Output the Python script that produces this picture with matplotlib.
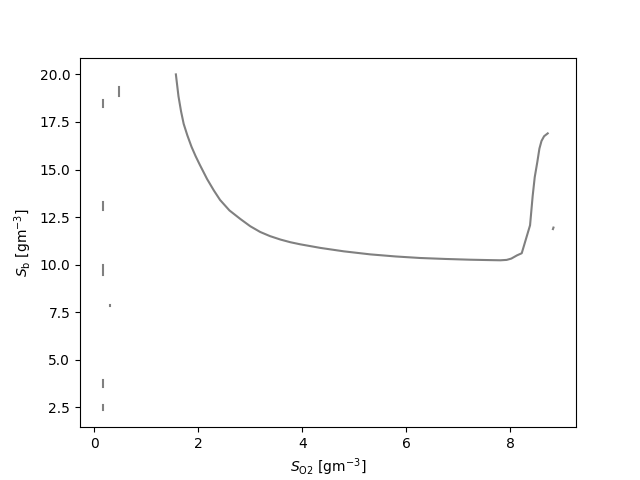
import matplotlib
matplotlib.use("Agg")
import matplotlib.pyplot as plt

# main nullcline branch
so2_main = [1.57, 1.62, 1.67, 1.72, 1.79, 1.87, 1.95, 2.03, 2.17, 2.30, 2.42, 2.60,
            2.81, 3.00, 3.19, 3.38, 3.58, 3.77, 3.96, 4.35, 4.80, 5.31, 5.80, 6.27,
            6.75, 7.23, 7.60, 7.81, 7.93, 8.02, 8.13, 8.22, 8.38, 8.43, 8.47, 8.52,
            8.56, 8.60, 8.65, 8.72]
sb_main = [20.0, 18.85, 18.05, 17.4, 16.8, 16.2, 15.7, 15.25, 14.5, 13.9, 13.4, 12.85,
           12.4, 12.02, 11.72, 11.5, 11.32, 11.18, 11.07, 10.88, 10.7, 10.54, 10.43,
           10.35, 10.3, 10.26, 10.24, 10.23, 10.25, 10.32, 10.49, 10.6, 12.07, 13.6,
           14.6, 15.4, 16.1, 16.5, 16.75, 16.9]

# small fragments
frag_x = [[0.47, 0.47], [0.16, 0.16], [0.16, 0.16], [0.16, 0.16], [0.31, 0.31],
          [0.16, 0.16], [0.16, 0.16], [8.82, 8.83]]
frag_y = [[18.87, 19.35], [18.28, 18.67], [12.85, 13.29], [9.44, 9.96], [7.81, 7.9],
          [3.57, 3.92], [2.34, 2.61], [11.87, 11.95]]

fig, ax = plt.subplots(figsize=(6.4, 4.8), dpi=100)
ax.plot(so2_main, sb_main, color="gray", lw=1.5)
for fx, fy in zip(frag_x, frag_y):
    ax.plot(fx, fy, color="gray", lw=1.5)

ax.set_xlabel(r"$S_{\mathrm{O2}}$ [gm$^{-3}$]")
ax.set_ylabel(r"$S_{\mathrm{b}}$ [gm$^{-3}$]")

fig.savefig("out.png")
